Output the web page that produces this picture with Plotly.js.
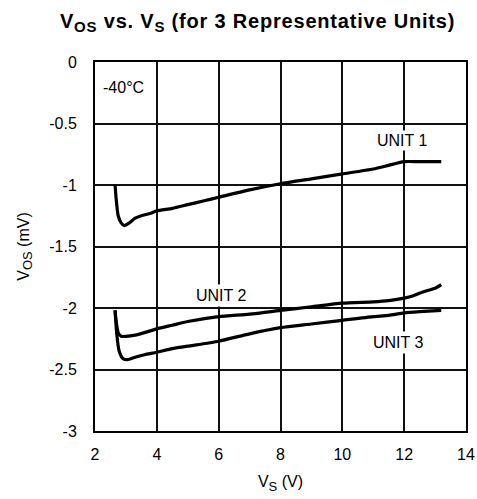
<!DOCTYPE html>
<html><head><meta charset="utf-8">
<script src="https://cdn.plot.ly/plotly-3.0.1.min.js"></script>
<style>html,body{margin:0;padding:0;background:#fff}#chart{width:477px;height:499px}
.gtitle{letter-spacing:0.8px}</style>
</head><body><div id="chart"></div>
<script>
var unit1X = [2.65, 2.68, 2.75, 2.85, 2.95, 3.1, 3.3, 3.5, 3.8, 4.0, 4.5, 5, 5.5, 6, 7, 8, 9, 10, 11, 11.5, 12, 12.5, 13.2];
var unit1Y = [-1.0, -1.1, -1.25, -1.31, -1.33, -1.31, -1.27, -1.25, -1.23, -1.21, -1.19, -1.16, -1.13, -1.10, -1.04, -0.99, -0.95, -0.91, -0.87, -0.84, -0.81, -0.81, -0.81];
var unit2X = [2.65, 2.68, 2.75, 2.85, 3.0, 3.3, 3.6, 4.0, 4.5, 5, 6, 7, 8, 9, 10, 11, 11.5, 12, 12.3, 12.6, 13.0, 13.2];
var unit2Y = [-2.02, -2.1, -2.2, -2.23, -2.23, -2.22, -2.2, -2.17, -2.14, -2.11, -2.07, -2.05, -2.02, -1.99, -1.96, -1.95, -1.94, -1.92, -1.9, -1.87, -1.84, -1.81];
var unit3X = [2.65, 2.7, 2.78, 2.9, 3.05, 3.3, 3.6, 4.0, 4.5, 5, 6, 7, 8, 9, 10, 11, 11.5, 12, 12.5, 13.2];
var unit3Y = [-2.02, -2.2, -2.35, -2.41, -2.42, -2.4, -2.38, -2.36, -2.33, -2.31, -2.27, -2.21, -2.16, -2.13, -2.1, -2.07, -2.06, -2.04, -2.03, -2.02];
var xTicks = [2, 4, 6, 8, 10, 12, 14];
var xTickText = ["2", "4", "6", "8", "10", "12", "14"];
var yTicks = [0, -0.5, -1, -1.5, -2, -2.5, -3];
var yTickText = ["0", "-0.5", "-1", "-1.5", "-2", "-2.5", "-3"];
var unitNames = ["UNIT 1", "UNIT 2", "UNIT 3"];
var tempLabel = "-40°C";

var lineStyle = {color: "#000", width: 3.2, shape: "spline", smoothing: 0.6};
var traces = [
  {x: unit1X, y: unit1Y, mode: "lines", line: lineStyle, name: unitNames[0]},
  {x: unit2X, y: unit2Y, mode: "lines", line: lineStyle, name: unitNames[1]},
  {x: unit3X, y: unit3Y, mode: "lines", line: lineStyle, name: unitNames[2]}
];
var fam = "Liberation Sans, Arial, sans-serif";
var fnt = {family: fam, size: 16, color: "#000"};
var sub = function (s, px) { return "<sub><span style='font-size:" + px + "px'>" + s + "</span></sub>"; };
var layout = {
  width: 477, height: 499,
  margin: {l: 95, r: 11, t: 62, b: 68},
  paper_bgcolor: "#fff", plot_bgcolor: "#fff",
  showlegend: false,
  font: fnt,
  title: {text: "<b>V" + sub("OS", 15) + " vs. V" + sub("S", 15) + " (for 3 Representative Units)</b>",
          font: {family: fam, size: 20, color: "#000"},
          x: 0.54, xanchor: "center", y: 0.958, yanchor: "middle"},
  xaxis: {range: [2, 14], tickmode: "array", tickvals: xTicks, ticktext: xTickText,
          showgrid: true, gridcolor: "#111", gridwidth: 2, zeroline: false,
          showline: true, linecolor: "#000", linewidth: 2, mirror: true,
          ticks: "", ticklen: 0, ticklabelstandoff: 8, tickfont: fnt,
          title: {text: "V" + sub("S", 13) + " (V)", font: fnt, standoff: 14}},
  yaxis: {range: [-3, 0], tickmode: "array", tickvals: yTicks, ticktext: yTickText,
          showgrid: true, gridcolor: "#111", gridwidth: 2, zeroline: false,
          showline: true, linecolor: "#000", linewidth: 2, mirror: true,
          ticks: "", ticklen: 0, ticklabelstandoff: 13, tickfont: fnt,
          title: {text: "V" + sub("OS", 13) + " (mV)", font: fnt, standoff: 16}},
  annotations: [
    {x: 11.93, y: -0.64, text: unitNames[0], showarrow: false, font: fnt, bgcolor: "#fff", borderpad: 1},
    {x: 6.08, y: -1.90, text: unitNames[1], showarrow: false, font: fnt, bgcolor: "#fff", borderpad: 2},
    {x: 11.8, y: -2.28, text: unitNames[2], showarrow: false, font: fnt, bgcolor: "#fff", borderpad: 2},
    {x: 2.2, y: -0.21, xanchor: "left", text: tempLabel, showarrow: false, font: fnt, bgcolor: "#fff"}
  ]
};
Plotly.newPlot("chart", traces, layout, {displayModeBar: false, staticPlot: true});
</script></body></html>
